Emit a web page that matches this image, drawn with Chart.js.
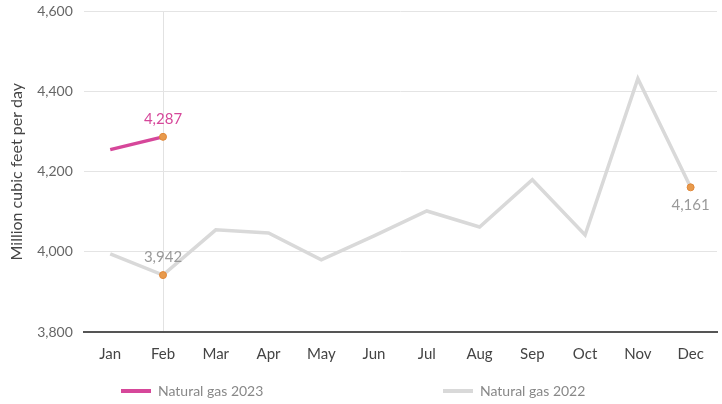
<!DOCTYPE html>
<html>
<head>
<meta charset="utf-8">
<script src="https://cdn.jsdelivr.net/npm/chart.js@4.4.0/dist/chart.umd.min.js"></script>
<style>
    html, body { margin: 0; padding: 0; background: #fff; }
    #wrap { position: relative; width: 722px; height: 404px; overflow: hidden; }
    #gasChart { position: absolute; left: 0; top: -8px; }
</style>
</head>
<body>
<div id="wrap"><canvas id="gasChart" width="722" height="412"></canvas></div>
<script>
// Chart data
const months = ['Jan', 'Feb', 'Mar', 'Apr', 'May', 'Jun', 'Jul', 'Aug', 'Sep', 'Oct', 'Nov', 'Dec'];
const gas2023 = [4255, 4287, null, null, null, null, null, null, null, null, null, null];
const gas2022 = [3995, 3942, 4055, 4047, 3980, 4040, 4102, 4062, 4180, 4042, 4432, 4161];
const yTicks = [3800, 4000, 4200, 4400, 4600];

// Which points get a dot and a label
const marked2023 = [1];
const marked2022 = [1, 11];

const PINK = '#d6479a';
const GREY = '#d9d9d9';
const ORANGE = '#e89a4c';

Chart.defaults.font.family = "'Lato', sans-serif";
Chart.defaults.color = '#555';

// Draw value labels next to the marked points
const valueLabels = {
    id: 'valueLabels',
    afterDatasetsDraw(chart) {
        const ctx = chart.ctx;
        ctx.save();
        ctx.font = "15px 'Lato', sans-serif";
        ctx.textAlign = 'center';
        chart.data.datasets.forEach((ds, di) => {
            const meta = chart.getDatasetMeta(di);
            ds.marked.forEach(i => {
                const pt = meta.data[i];
                const text = ds.data[i].toLocaleString('en-US');
                ctx.fillStyle = di === 0 ? PINK : '#999';
                const below = i === 11;
                ctx.textBaseline = below ? 'top' : 'bottom';
                ctx.fillText(text, pt.x, below ? pt.y + 10 : pt.y - 10);
            });
        });
        ctx.restore();
    }
};

// Bottom legend, entries spread apart like the reference
const legendItems = [{ x: 121 }, { x: 443 }];
const spreadLegend = {
    id: 'spreadLegend',
    afterDraw(chart) {
        const ctx = chart.ctx;
        ctx.save();
        ctx.font = "14px 'Lato', sans-serif";
        ctx.textBaseline = 'middle';
        chart.data.datasets.forEach((ds, i) => {
            const x = legendItems[i].x;
            const y = 399;
            ctx.fillStyle = ds.borderColor;
            ctx.fillRect(x, y - 2, 30, 4);
            ctx.fillStyle = '#888';
            ctx.fillText(ds.label, x + 37, y);
        });
        ctx.restore();
    }
};

const ctx = document.getElementById('gasChart').getContext('2d');
new Chart(ctx, {
    type: 'line',
    data: {
        labels: months,
        datasets: [
            {
                label: 'Natural gas 2023',
                data: gas2023,
                marked: marked2023,
                borderColor: PINK,
                backgroundColor: PINK,
                borderWidth: 3.5,
                pointRadius: months.map((m, i) => marked2023.includes(i) ? 3.5 : 0),
                pointBackgroundColor: ORANGE,
                pointBorderColor: '#e0883a',
                pointBorderWidth: 1,
                tension: 0
            },
            {
                label: 'Natural gas 2022',
                data: gas2022,
                marked: marked2022,
                borderColor: GREY,
                backgroundColor: GREY,
                borderWidth: 3.5,
                pointRadius: months.map((m, i) => marked2022.includes(i) ? 3.5 : 0),
                pointBackgroundColor: ORANGE,
                pointBorderColor: '#e0883a',
                pointBorderWidth: 1,
                tension: 0
            }
        ]
    },
    options: {
        responsive: false,
        animation: false,
        layout: { padding: { top: 0, right: 1, left: 4, bottom: 28 } },
        plugins: {
            legend: { display: false },
            tooltip: { enabled: false }
        },
        scales: {
            x: {
                offset: true,
                grid: {
                    color: c => c.index === 1 ? '#e2e2e2' : 'rgba(0,0,0,0)',
                    drawTicks: false
                },
                border: { display: true, color: '#555', width: 2 },
                ticks: { padding: 13, color: '#444', font: { size: 15 } }
            },
            y: {
                min: 3800,
                max: 4600,
                afterBuildTicks: axis => { axis.ticks = yTicks.map(v => ({ value: v })); },
                grid: { color: '#e4e4e4', drawTicks: false },
                border: { display: false },
                ticks: {
                    padding: 11,
                    color: '#666',
                    font: { size: 14 },
                    callback: v => v.toLocaleString('en-US')
                },
                title: {
                    display: true,
                    text: 'Million cubic feet per day',
                    color: '#444',
                    font: { size: 16 },
                    padding: { top: 3, bottom: 0 }
                }
            }
        }
    },
    plugins: [valueLabels, spreadLegend]
});
</script>
</body>
</html>
